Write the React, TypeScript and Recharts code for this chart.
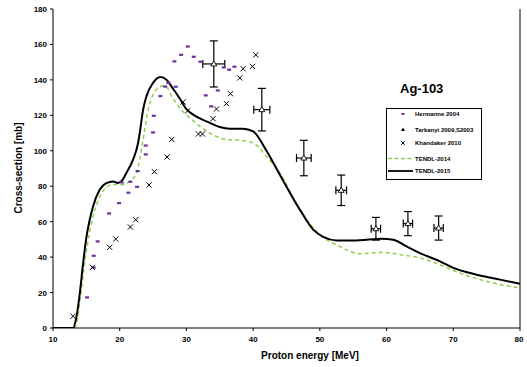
import React from "react";
import {
  ComposedChart,
  Line,
  Scatter,
  XAxis,
  YAxis,
  ErrorBar,
  ReferenceLine,
} from "recharts";

// Hermanne 2004
const hermanneE = [15.1, 16.1, 16.1, 16.7, 18.4, 19.9, 20.3, 21.3, 21.6, 22.6, 22.7, 23.9, 23.9, 25.0, 25.1, 26.1, 26.8, 27.3, 28.2, 28.4, 29.2, 30.2, 31.1, 32.1, 32.9, 33.7, 34.7, 35.6, 36.4, 37.2];
const hermanneCS = [17.3, 34.2, 40.8, 48.9, 64.7, 70.5, 82.2, 76.4, 82.6, 79.7, 88.6, 98.0, 103.0, 110.4, 119.8, 130.9, 136.3, 138.3, 150.5, 136.2, 154.2, 158.9, 153.1, 150.3, 131.3, 125.1, 134.1, 147.1, 145.8, 147.5];

// Tarkanyi 2009, S2003
const tarkanyiE = [34.1, 41.3, 47.6, 53.2, 58.4, 63.2, 67.8];
const tarkanyiCS = [149.0, 123.2, 95.9, 77.7, 56.0, 58.9, 56.4];
const tarkanyiErrCS = [13, 12, 10, 8.6, 6.4, 6.8, 6.8];
const tarkanyiErrE = [1.65, 1.2, 1.1, 0.8, 0.7, 0.7, 0.7];

// Khandaker 2010
const khandakerE = [13.0, 15.9, 18.5, 19.4, 21.6, 22.4, 24.4, 25.2, 27.1, 27.8, 29.5, 30.2, 31.8, 32.4, 34.0, 34.5, 36.0, 36.6, 38.0, 38.5, 39.9, 40.4];
const khandakerCS = [6.6, 34.2, 45.5, 50.2, 57.0, 61.1, 80.7, 88.2, 96.5, 106.4, 127.5, 122.6, 109.5, 109.5, 118.1, 123.6, 126.6, 132.2, 141.1, 146.3, 147.6, 154.1];

// TENDL-2014
const tendl14E = [10, 13.2, 13.7, 14.2, 14.7, 15.2, 16, 17, 18, 19, 20, 21, 21.5, 22.5, 23, 23.5, 24.25, 25, 26, 26.75, 28, 29.5, 31, 32, 34, 36, 38, 40, 42, 44, 47, 50, 53, 56, 59.5, 62, 65, 68, 71, 76, 80];
const tendl14CS = [0, 0, 6, 20, 35, 48, 63, 74, 79.5, 81, 80.8, 81.5, 82.7, 87.5, 95, 106, 123, 131.7, 136, 136.7, 129.5, 122, 117, 113.8, 109, 106.3, 105.9, 104.4, 96.8, 87.5, 66.8, 52.7, 46, 41.9, 42.7, 41.4, 39.5, 35.7, 31, 25.4, 22.6];

// TENDL-2015
const tendl15E = [10, 13, 13.5, 14, 14.5, 15, 15.5, 16, 17, 18, 19, 19.7, 20.3, 21, 22, 22.75, 23, 23.5, 24, 25, 26.1, 27, 28, 29, 30, 31, 33, 35, 36.5, 38.5, 40, 42, 44, 47, 49, 50.5, 52.5, 54.5, 57, 59.25, 61, 63, 65, 68, 70, 73.5, 77, 80];
const tendl15CS = [0, 0, 6, 19, 36, 51, 61, 68.6, 78, 81.8, 82.7, 81.8, 83, 87.5, 95, 104.4, 110, 123, 130.7, 138.3, 141.6, 140.1, 135, 129.5, 123.5, 120.4, 116.6, 113.4, 112.5, 112.5, 111, 100, 86.5, 66.8, 55.5, 51.4, 49.4, 49.4, 49.8, 50.4, 49.8, 46, 42.3, 37.6, 33.9, 30.1, 27.3, 25];

const xTicks = [10, 20, 30, 40, 50, 60, 70, 80];
const yTicks = [0, 20, 40, 60, 80, 100, 120, 140, 160, 180];

const zip = (xs: number[], ys: number[]) => xs.map((x, i) => ({ x, y: ys[i] }));

const hermanne = zip(hermanneE, hermanneCS);
const khandaker = zip(khandakerE, khandakerCS);
const tarkanyi = tarkanyiE.map((x, i) => ({
  x,
  y: tarkanyiCS[i],
  ey: tarkanyiErrCS[i],
  ex: tarkanyiErrE[i],
}));
const tendl14 = zip(tendl14E, tendl14CS);
const tendl15 = zip(tendl15E, tendl15CS);

const FONT = "'Liberation Sans', Arial, sans-serif";

const Dash = (props: any) => {
  const { cx, cy } = props;
  return <rect x={cx - 2} y={cy - 1} width={4} height={2.2} fill="#7030A0" />;
};

const Cross = (props: any) => {
  const { cx, cy } = props;
  const s = 2.6;
  return (
    <path
      d={`M${cx - s},${cy - s}L${cx + s},${cy + s}M${cx - s},${cy + s}L${cx + s},${cy - s}`}
      stroke="#000"
      strokeWidth={1}
    />
  );
};

const Tri = (props: any) => {
  const { cx, cy } = props;
  return (
    <path
      d={`M${cx},${cy - 3}L${cx + 3},${cy + 2}L${cx - 3},${cy + 2}Z`}
      fill="#fff"
      stroke="#000"
      strokeWidth={0.9}
    />
  );
};

const XTick = (props: any) => {
  const { x, y, payload } = props;
  return (
    <text x={x} y={y + 9} textAnchor="middle" fontSize={8} fontWeight="bold" fontFamily={FONT} fill="#000">
      {payload.value}
    </text>
  );
};

const YTick = (props: any) => {
  const { x, y, payload } = props;
  return (
    <text x={x - 1} y={y + 3} textAnchor="end" fontSize={8} fontWeight="bold" fontFamily={FONT} fill="#000">
      {payload.value}
    </text>
  );
};

const legendItems = [
  { name: "Hermanne 2004", kind: "dash" },
  { name: "Tarkanyi 2009,S2003", kind: "tri" },
  { name: "Khandaker 2010", kind: "cross" },
  { name: "TENDL-2014", kind: "green" },
  { name: "TENDL-2015", kind: "black" },
];

const LegendBox = () => (
  <svg width={96} height={72} style={{ display: "block" }}>
    <rect x={0.5} y={0.5} width={95} height={71} fill="#fff" stroke="#000" strokeWidth={1} />
    {legendItems.map((it, i) => {
      const y = [6, 21.5, 35, 50.5, 63][i];
      const mx = 17;
      let mark: React.ReactNode = null;
      if (it.kind === "dash") mark = <rect x={mx - 1.5} y={y - 1} width={3} height={2} fill="#7030A0" />;
      if (it.kind === "tri") mark = <path d={`M${mx},${y - 2}L${mx + 2},${y + 1.5}L${mx - 2},${y + 1.5}Z`} fill="#000" />;
      if (it.kind === "cross")
        mark = (
          <path d={`M${mx - 1.8},${y - 1.8}L${mx + 1.8},${y + 1.8}M${mx - 1.8},${y + 1.8}L${mx + 1.8},${y - 1.8}`} stroke="#000" strokeWidth={1} />
        );
      if (it.kind === "green")
        mark = <line x1={2} x2={27} y1={y} y2={y} stroke="#92D050" strokeWidth={1.3} strokeDasharray="4 2.5" />;
      if (it.kind === "black") mark = <line x1={2} x2={27} y1={y} y2={y} stroke="#000" strokeWidth={1.8} />;
      return (
        <g key={it.name}>
          {mark}
          <text x={29} y={y + 2} fontSize={6} fontWeight="bold" fontFamily={FONT} fill="#000">
            {it.name}
          </text>
        </g>
      );
    })}
  </svg>
);

export default function App() {
  return (
    <div style={{ position: "absolute", left: 0, top: 0, width: 527, height: 367, background: "#fff" }}>
      <ComposedChart
        width={527}
        height={367}
        margin={{ top: 9, right: 7, bottom: 0, left: 0 }}
      >
        <XAxis
          dataKey="x"
          type="number"
          domain={[10, 80]}
          ticks={xTicks}
          allowDataOverflow
          height={39}
          stroke="#000"
          tickSize={3}
          tick={<XTick />}
        />
        <YAxis
          dataKey="y"
          type="number"
          domain={[0, 180]}
          ticks={yTicks}
          allowDataOverflow
          width={53}
          stroke="#000"
          tickSize={3}
          tick={<YTick />}
        />
        <ReferenceLine x={80} stroke="#000" strokeWidth={1} />
        <Line
          data={tendl14}
          dataKey="y"
          type="monotone"
          stroke="#92D050"
          strokeWidth={1.5}
          strokeDasharray="4 3"
          dot={false}
          isAnimationActive={false}
        />
        <Line
          data={tendl15}
          dataKey="y"
          type="monotone"
          stroke="#000"
          strokeWidth={2}
          dot={false}
          isAnimationActive={false}
        />
        <Scatter data={hermanne} dataKey="y" shape={<Dash />} isAnimationActive={false} />
        <Scatter data={khandaker} dataKey="y" shape={<Cross />} isAnimationActive={false} />
        <Scatter data={tarkanyi} dataKey="y" shape={<Tri />} isAnimationActive={false}>
          <ErrorBar dataKey="ey" direction="y" width={4} stroke="#000" strokeWidth={1.2} />
          <ErrorBar dataKey="ex" direction="x" width={4} stroke="#000" strokeWidth={1.2} />
        </Scatter>
        <text x={400} y={93} fontSize={13} fontWeight="bold" fontFamily={FONT} fill="#000">
          Ag-103
        </text>
        <text x={310} y={359} textAnchor="middle" fontSize={10} fontWeight="bold" fontFamily={FONT} fill="#000">
          Proton energy [MeV]
        </text>
        <text
          x={0}
          y={0}
          transform="translate(22,168) rotate(-90)"
          textAnchor="middle"
          fontSize={10}
          fontWeight="bold"
          fontFamily={FONT}
          fill="#000"
        >
          Cross-section [mb]
        </text>
      </ComposedChart>
      <div style={{ position: "absolute", left: 386, top: 108 }}>
        <LegendBox />
      </div>
    </div>
  );
}
